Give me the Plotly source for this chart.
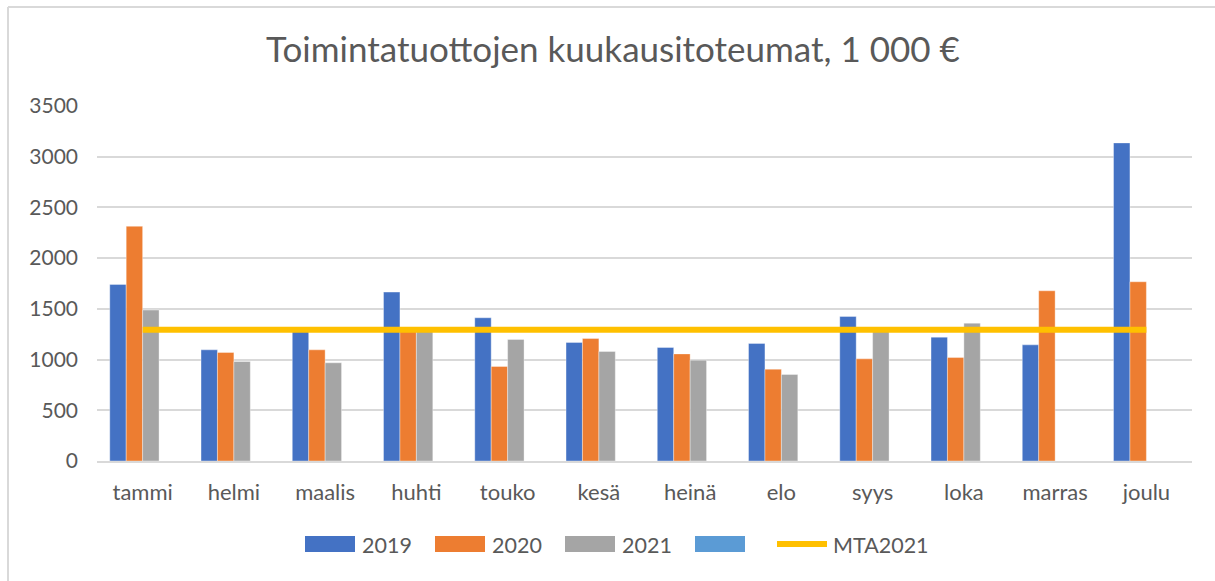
import plotly.graph_objects as go

months = ["tammi", "helmi", "maalis", "huhti", "touko", "kesä", "heinä", "elo", "syys", "loka", "marras", "joulu"]
v2019 = [1741, 1096, 1290, 1665, 1412, 1169, 1119, 1159, 1425, 1221, 1145, 3136]
v2020 = [2314, 1070, 1096, 1285, 932, 1208, 1056, 905, 1007, 1020, 1678, 1767]
v2021 = [1488, 981, 968, 1285, 1198, 1080, 994, 853, 1285, 1359, None, None]
v_empty = [None] * 12
mta2021 = [1293] * 12

title = "Toimintatuottojen kuukausitoteumat, 1 000 €"
yticks = [0, 500, 1000, 1500, 2000, 2500, 3000, 3500]

C_BLUE = "#4472C4"
C_ORANGE = "#ED7D31"
C_GRAY = "#A5A5A5"
C_LBLUE = "#5B9BD5"
C_GOLD = "#FFC000"
TXT = "#595959"
GRID = "#D9D9D9"
FONT = "Lato"

W, H = 1215, 581
L, R, T, B = 97, 23, 106, 120
PW, PH = W - L - R, H - T - B


def px(x):
    return (x - L) / PW


def py(y):
    return (H - B - y) / PH


fig = go.Figure()
bar_series = [("2019", v2019, C_BLUE), ("2020", v2020, C_ORANGE), ("2021", v2021, C_GRAY), (" ", v_empty, C_LBLUE)]
for name, vals, col in bar_series:
    fig.add_trace(go.Bar(x=months, y=vals, name=name, marker=dict(color=col, line=dict(width=0.6, color="rgba(255,255,255,0.6)")), showlegend=False))

fig.add_trace(go.Scatter(x=months, y=mta2021, mode="lines", name="MTA2021",
                         line=dict(color=C_GOLD, width=6), showlegend=False))

shapes = []
annotations = []
# outer chart border (left and top visible)
shapes.append(dict(type="line", xref="paper", yref="paper", x0=px(8), x1=px(W + 10), y0=py(7), y1=py(7),
                   line=dict(color=GRID, width=2)))
shapes.append(dict(type="line", xref="paper", yref="paper", x0=px(8), x1=px(8), y0=py(7), y1=py(H + 10),
                   line=dict(color=GRID, width=2)))

# custom legend
leg_y = 544
items = [("2019", C_BLUE, "bar", 305), ("2020", C_ORANGE, "bar", 435), ("2021", C_GRAY, "bar", 565),
         ("", C_LBLUE, "bar", 695), ("MTA2021", C_GOLD, "line", 774)]
for label, col, kind, x0 in items:
    if kind == "bar":
        shapes.append(dict(type="rect", xref="paper", yref="paper", x0=px(x0), x1=px(x0 + 50),
                           y0=py(leg_y + 8), y1=py(leg_y - 8), fillcolor=col, line=dict(width=0)))
        tx = x0 + 55
    else:
        shapes.append(dict(type="line", xref="paper", yref="paper", x0=px(x0 + 3), x1=px(x0 + 53),
                           y0=py(leg_y), y1=py(leg_y), line=dict(color=col, width=6)))
        tx = x0 + 57
    if label:
        annotations.append(dict(text=label, xref="paper", yref="paper", x=px(tx), y=py(leg_y + 1),
                                xanchor="left", yanchor="middle", showarrow=False,
                                font=dict(family=FONT, size=21.5, color=TXT)))

fig.update_layout(
    width=W, height=H,
    margin=dict(l=L, r=R, t=T, b=B),
    paper_bgcolor="white", plot_bgcolor="white",
    barmode="group", bargap=0.28, bargroupgap=0,
    title=dict(text=title, xref="container", yref="container", x=613 / W, y=1 - 50 / H,
               xanchor="center", yanchor="middle", font=dict(family=FONT, size=35, color=TXT)),
    font=dict(family=FONT, color=TXT),
    shapes=shapes, annotations=annotations,
    showlegend=False,
)
fig.update_xaxes(showgrid=False, showline=True, linecolor=GRID, linewidth=2, ticks="",
                 tickfont=dict(family=FONT, size=22, color=TXT), ticklabelstandoff=11)
fig.update_yaxes(range=[0, 3500], tickvals=yticks, showgrid=True, gridcolor=GRID, gridwidth=2,
                 zeroline=False, showline=False, ticks="",
                 tickfont=dict(family=FONT, size=21, color=TXT), ticklabelstandoff=18)

fig.write_html("out.html", config={"displayModeBar": False},
               post_script="document.body.style.margin='0';document.body.style.overflow='hidden';")
